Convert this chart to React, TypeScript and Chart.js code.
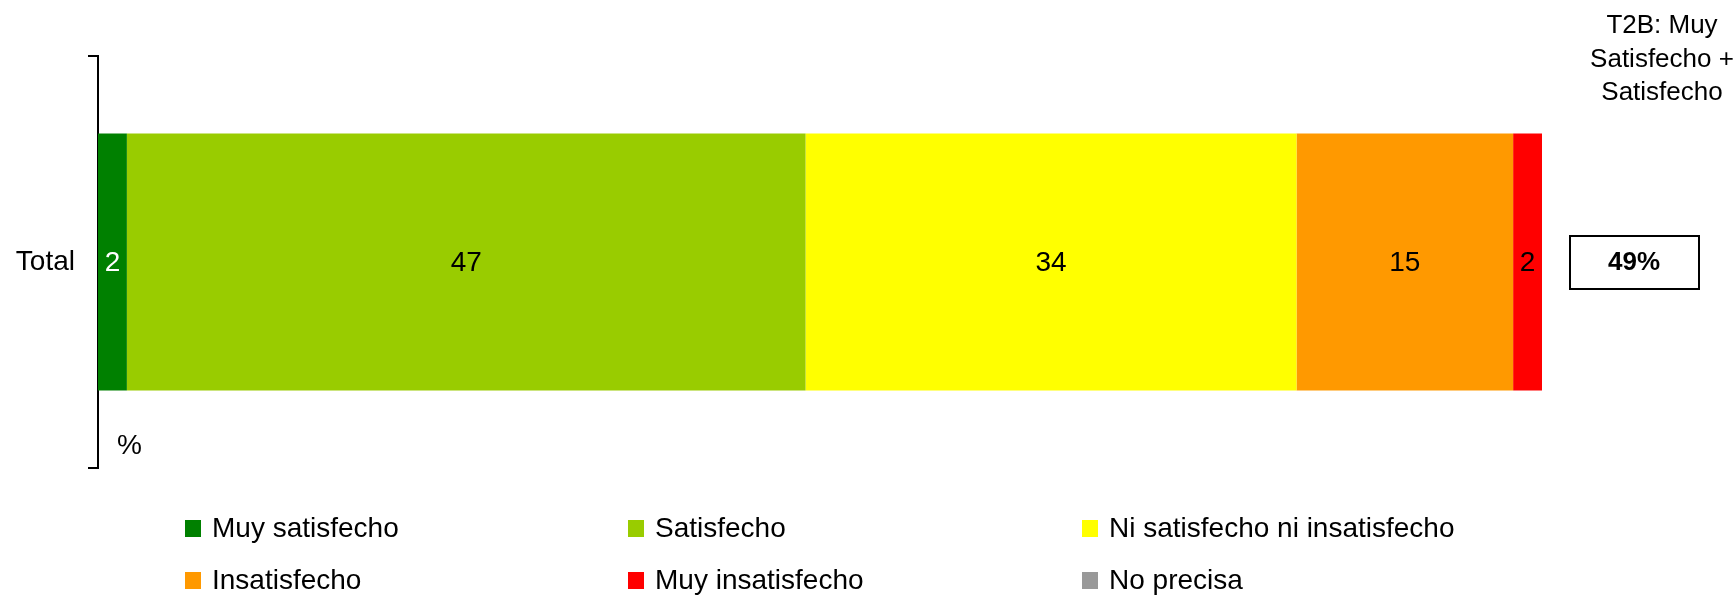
import React, { useEffect, useRef } from "react";
import { Chart, registerables } from "chart.js";

Chart.register(...registerables);

const categories = ["Total"];
const seriesLabels = [
  "Muy satisfecho",
  "Satisfecho",
  "Ni satisfecho ni insatisfecho",
  "Insatisfecho",
  "Muy insatisfecho",
  "No precisa",
];
const seriesColors = ["#008000", "#99CC00", "#FFFF00", "#FF9900", "#FF0000", "#999999"];
const seriesLabelColors = ["#FFFFFF", "#000000", "#000000", "#000000", "#000000", "#000000"];
const muySatisfecho = [2];
const satisfecho = [47];
const niNi = [34];
const insatisfecho = [15];
const muyInsatisfecho = [2];
const noPrecisa = [0];
const seriesValues = [muySatisfecho, satisfecho, niNi, insatisfecho, muyInsatisfecho, noPrecisa];
const t2bTitle = ["T2B: Muy", "Satisfecho +", "Satisfecho"];
const unitLabel = "%";

const FONT = "'Liberation Sans', Arial, Helvetica, sans-serif";

const dataLabelsPlugin = {
  id: "segLabels",
  afterDatasetsDraw(chart: any) {
    const ctx = chart.ctx;
    ctx.save();
    ctx.font = `28px ${FONT}`;
    ctx.textAlign = "center";
    ctx.textBaseline = "middle";
    chart.data.datasets.forEach((ds: any, di: number) => {
      const meta = chart.getDatasetMeta(di);
      meta.data.forEach((el: any, i: number) => {
        const v = ds.data[i];
        if (!v) return;
        ctx.fillStyle = seriesLabelColors[di];
        ctx.fillText(String(v), (el.x + el.base) / 2, el.y + 1);
      });
    });
    ctx.restore();
  },
};

const extrasPlugin = {
  id: "extras",
  afterDraw(chart: any) {
    const ctx = chart.ctx;
    const area = chart.chartArea;
    const meta0 = chart.getDatasetMeta(0);
    const barY = meta0.data[0] ? meta0.data[0].y : (area.top + area.bottom) / 2;
    ctx.save();
    ctx.fillStyle = "#000";
    // unit label
    ctx.font = `28px ${FONT}`;
    ctx.textAlign = "left";
    ctx.textBaseline = "middle";
    ctx.fillText(unitLabel, area.left + 19, 446);
    // T2B title
    ctx.font = `26px ${FONT}`;
    ctx.textAlign = "center";
    t2bTitle.forEach((line, i) => {
      ctx.fillText(line, 1662, 26 + i * 33.5);
    });
    // T2B box
    const t2b = muySatisfecho[0] + satisfecho[0];
    ctx.strokeStyle = "#000";
    ctx.lineWidth = 2;
    ctx.strokeRect(1570, barY - 26, 129, 53);
    ctx.font = `bold 26px ${FONT}`;
    ctx.fillText(`${t2b}%`, 1634, barY + 1);
    ctx.restore();
  },
};

const legendPlugin = {
  id: "gridLegend",
  afterDraw(chart: any) {
    const ctx = chart.ctx;
    const colX = [185, 628, 1082];
    const rowY = [528, 580];
    ctx.save();
    ctx.font = `28px ${FONT}`;
    ctx.textAlign = "left";
    ctx.textBaseline = "middle";
    chart.data.datasets.forEach((ds: any, i: number) => {
      const c = i % 3;
      const r = Math.floor(i / 3);
      const x = colX[c];
      const y = rowY[r];
      ctx.fillStyle = ds.backgroundColor;
      ctx.fillRect(x, y - 8, 16, 17);
      ctx.fillStyle = "#000";
      ctx.fillText(ds.label, x + 27, y + 1);
    });
    ctx.restore();
  },
};

export default function App() {
  const ref = useRef<HTMLCanvasElement | null>(null);
  useEffect(() => {
    if (!ref.current) return;
    Chart.defaults.font.family = FONT;
    Chart.defaults.color = "#000";
    const chart = new Chart(ref.current, {
      type: "bar",
      data: {
        labels: categories,
        datasets: seriesLabels.map((label, i) => ({
          label,
          data: seriesValues[i],
          backgroundColor: seriesColors[i],
          borderWidth: 0,
          barPercentage: 0.78,
          categoryPercentage: 0.8,
        })),
      },
      options: {
        indexAxis: "y",
        animation: false,
        responsive: false,
        maintainAspectRatio: false,
        layout: { padding: { left: 0, right: 194, top: 56, bottom: 129 } },
        plugins: {
          legend: { display: false },
          tooltip: { enabled: false },
        },
        scales: {
          x: { stacked: true, min: 0, max: 100, display: false },
          y: {
            stacked: true,
            offset: true,
            afterFit(scale: any) {
              scale.width = 98;
            },
            border: { display: true, color: "#000", width: 2 },
            grid: {
              offset: true,
              drawOnChartArea: false,
              drawTicks: true,
              tickLength: 10,
              color: "#000",
              lineWidth: 2,
            },
            ticks: { font: { size: 28, family: FONT }, color: "#000", padding: 13 },
          },
        },
      },
      plugins: [dataLabelsPlugin, extrasPlugin, legendPlugin],
    });
    return () => chart.destroy();
  }, []);
  return (
    <div style={{ position: "fixed", left: 0, top: 0, width: 1736, height: 597, background: "#fff" }}>
      <canvas ref={ref} width={1736} height={597} style={{ width: 1736, height: 597 }} />
    </div>
  );
}
